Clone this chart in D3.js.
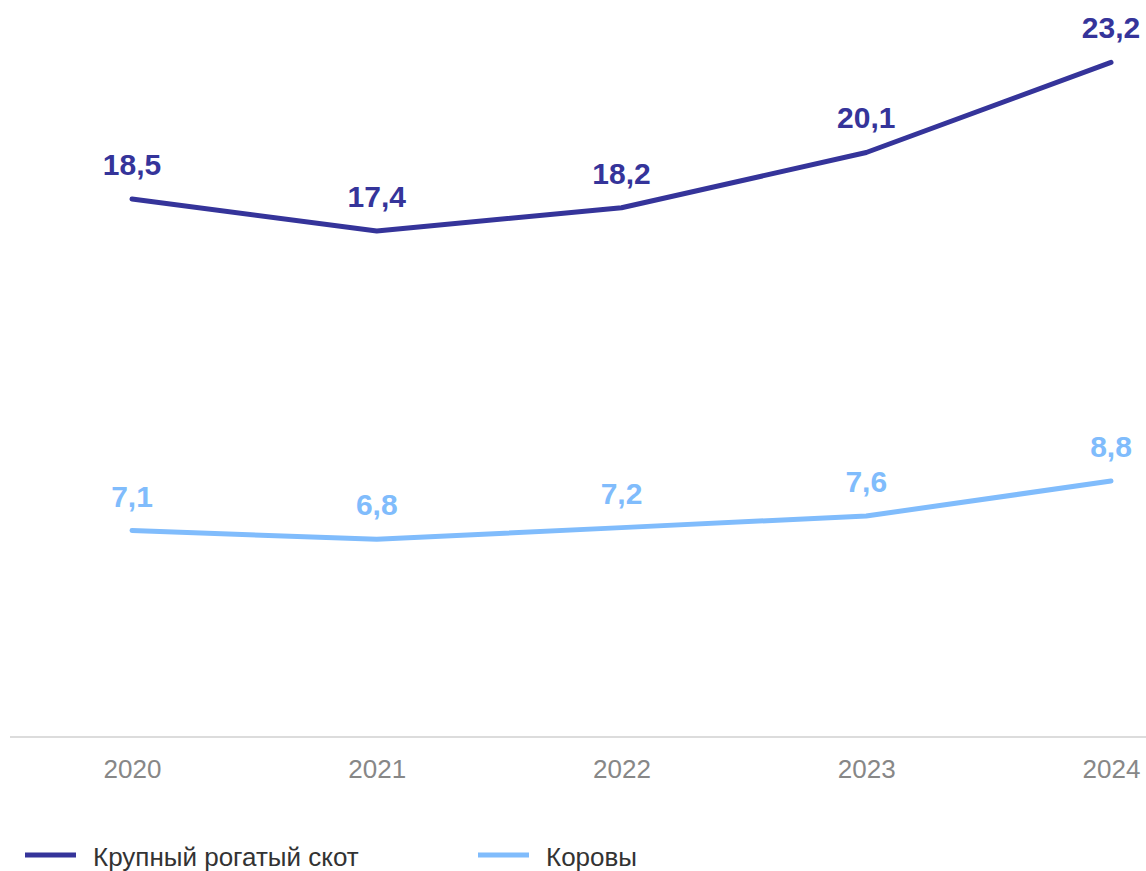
<!DOCTYPE html>
<html><head><meta charset="utf-8">
<script src="https://cdn.jsdelivr.net/npm/d3@7"></script>
<style>body{margin:0;background:#fff}svg{display:block;font-family:Arial,"Liberation Sans",sans-serif}</style>
</head><body><svg id="c" width="1146" height="871"></svg>
<script>
const years = ["2020","2021","2022","2023","2024"];
const cattle = [18.5, 17.4, 18.2, 20.1, 23.2];
const cows = [7.1, 6.8, 7.2, 7.6, 8.8];
const seriesNames = ["Крупный рогатый скот", "Коровы"];
const colors = ["#35349a", "#80bcfc"];

const svg = d3.select("#c");
const x = d3.scalePoint().domain(years).range([132, 1111]);
const y = d3.scaleLinear().domain([0, 25]).range([737, 10]);
const fmt = v => d3.format(".1f")(v).replace(".", ",");

// baseline
svg.append("line").attr("x1", 10).attr("x2", 1146).attr("y1", y(0)).attr("y2", y(0))
  .attr("stroke", "#d0d0d0").attr("stroke-width", 1.5);

const xa = svg.append("g").attr("transform", `translate(0,${y(0)})`)
  .call(d3.axisBottom(x).tickSize(0).tickPadding(23));
xa.select(".domain").remove();
xa.selectAll("text").attr("font-size", 26).attr("fill", "#878787")
  .attr("font-family", "Arial, 'Liberation Sans', sans-serif");

const data = [cattle, cows];
const line = d3.line().x((d, i) => x(years[i])).y(d => y(d));
data.forEach((s, k) => {
  svg.append("path").datum(s).attr("d", line).attr("fill", "none")
    .attr("stroke", colors[k]).attr("stroke-width", 5).attr("stroke-linecap", "round")
    .attr("stroke-linejoin", "round");
  svg.selectAll(null).data(s).enter().append("text")
    .attr("x", (d, i) => x(years[i]))
    .attr("y", d => y(d) - 24)
    .attr("text-anchor", "middle").attr("font-size", 30).attr("font-weight", "bold")
    .attr("fill", colors[k]).text(d => fmt(d));
});

// legend
const legX = [25, 478];
seriesNames.forEach((n, k) => {
  svg.append("line").attr("x1", legX[k]).attr("x2", legX[k] + 51).attr("y1", 855).attr("y2", 855)
    .attr("stroke", colors[k]).attr("stroke-width", 5);
  svg.append("text").attr("x", legX[k] + 68).attr("y", 866).attr("font-size", 26)
    .attr("fill", "#333").text(n);
});
</script></body></html>
